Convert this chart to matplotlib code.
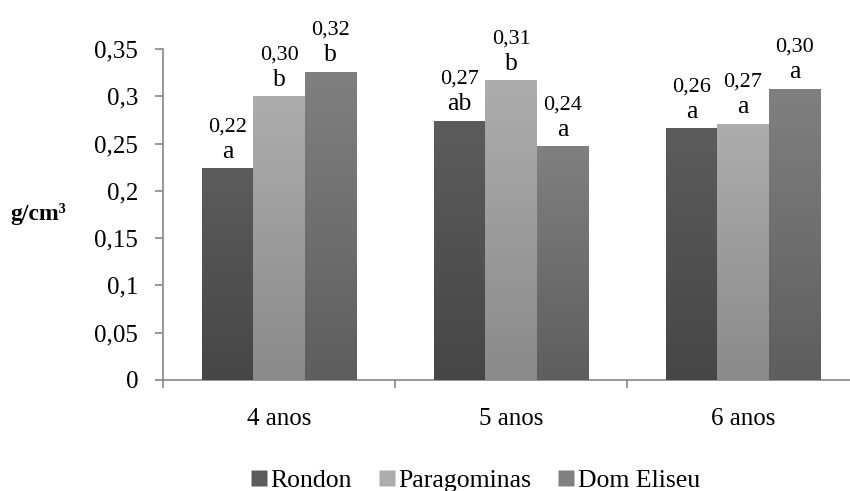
import numpy as np
import matplotlib
matplotlib.use("Agg")
import matplotlib.pyplot as plt
from matplotlib.colors import LinearSegmentedColormap
from matplotlib.lines import Line2D

categories = ["4 anos", "5 anos", "6 anos"]
series = ["Rondon", "Paragominas", "Dom Eliseu"]
rondon = [0.224, 0.274, 0.266]
paragominas = [0.300, 0.317, 0.271]
dom_eliseu = [0.326, 0.247, 0.308]
value_labels = [["0,22", "0,27", "0,26"], ["0,30", "0,31", "0,27"], ["0,32", "0,24", "0,30"]]
letter_labels = [["a", "ab", "a"], ["b", "b", "a"], ["b", "a", "a"]]
yticks = [0, 0.05, 0.1, 0.15, 0.2, 0.25, 0.3, 0.35]
ytick_labels = ["0", "0,05", "0,1", "0,15", "0,2", "0,25", "0,3", "0,35"]

top_colors = ["#5c5c5c", "#adadad", "#808080"]
bot_colors = ["#464646", "#8a8a8a", "#5e5e5e"]

plt.rcParams['font.family'] = ['Liberation Serif', 'DejaVu Serif']

fig = plt.figure(figsize=(8.5, 4.91), dpi=100)
ax = fig.add_axes([0.1918, 0.2261, 0.8188, 0.6741])
ax.set_xlim(0, 3)
ax.set_ylim(0, 0.35)

bw = 0.222
data = [rondon, paragominas, dom_eliseu]
x = np.arange(3) + 0.5
grad = np.linspace(0, 1, 256).reshape(-1, 1)
for i, vals in enumerate(data):
    cmap = LinearSegmentedColormap.from_list(f"g{i}", [bot_colors[i], top_colors[i]])
    offs = (i - 1) * bw
    bars = ax.bar(x + offs, vals, width=bw, color=top_colors[i], edgecolor="none", zorder=2)
    for j, b in enumerate(bars):
        bx, by = b.get_x(), b.get_y()
        w, h = b.get_width(), b.get_height()
        im = ax.imshow(grad, extent=[bx, bx + w, 0, h], origin="lower", aspect="auto",
                       cmap=cmap, zorder=3)
        im.set_clip_path(b)
        ax.annotate(letter_labels[i][j], (bx + w / 2, h), xytext=(0, 4),
                    textcoords="offset points", ha="center", va="bottom", fontsize=18.5)
        ax.annotate(value_labels[i][j], (bx + w / 2, h), xytext=(0, 23),
                    textcoords="offset points", ha="center", va="bottom", fontsize=16)
ax.set_xlim(0, 3)
ax.set_ylim(0, 0.35)

for s in ["top", "right"]:
    ax.spines[s].set_visible(False)
for s in ["left", "bottom"]:
    ax.spines[s].set_color("#868686")
    ax.spines[s].set_linewidth(1.2)

ax.set_yticks(yticks)
ax.set_yticklabels(ytick_labels, fontsize=18)
ax.set_xticks([0, 1, 2, 3])
ax.set_xticklabels([])
ax.set_xticks(x, minor=True)
ax.set_xticklabels(categories, minor=True, fontsize=18)
ax.tick_params(axis="x", which="minor", length=0, pad=20)
ax.tick_params(axis="x", which="major", length=6, color="#868686", width=1.2)
ax.tick_params(axis="y", length=6, color="#868686", width=1.2, pad=12)

fig.text(0.012, 0.565, "g/cm³", fontsize=17, fontweight="bold", ha="left", va="center")

handles = [Line2D([], [], marker="s", linestyle="none", markersize=11,
                  markerfacecolor=top_colors[i], markeredgecolor="none") for i in range(3)]
fig.legend(handles, series, loc="center", bbox_to_anchor=(0.558, 0.022), ncol=3,
           frameon=False, fontsize=18.5, handletextpad=0.05, columnspacing=0.95,
           handlelength=0.8)

fig.savefig("out.png", dpi=100)
